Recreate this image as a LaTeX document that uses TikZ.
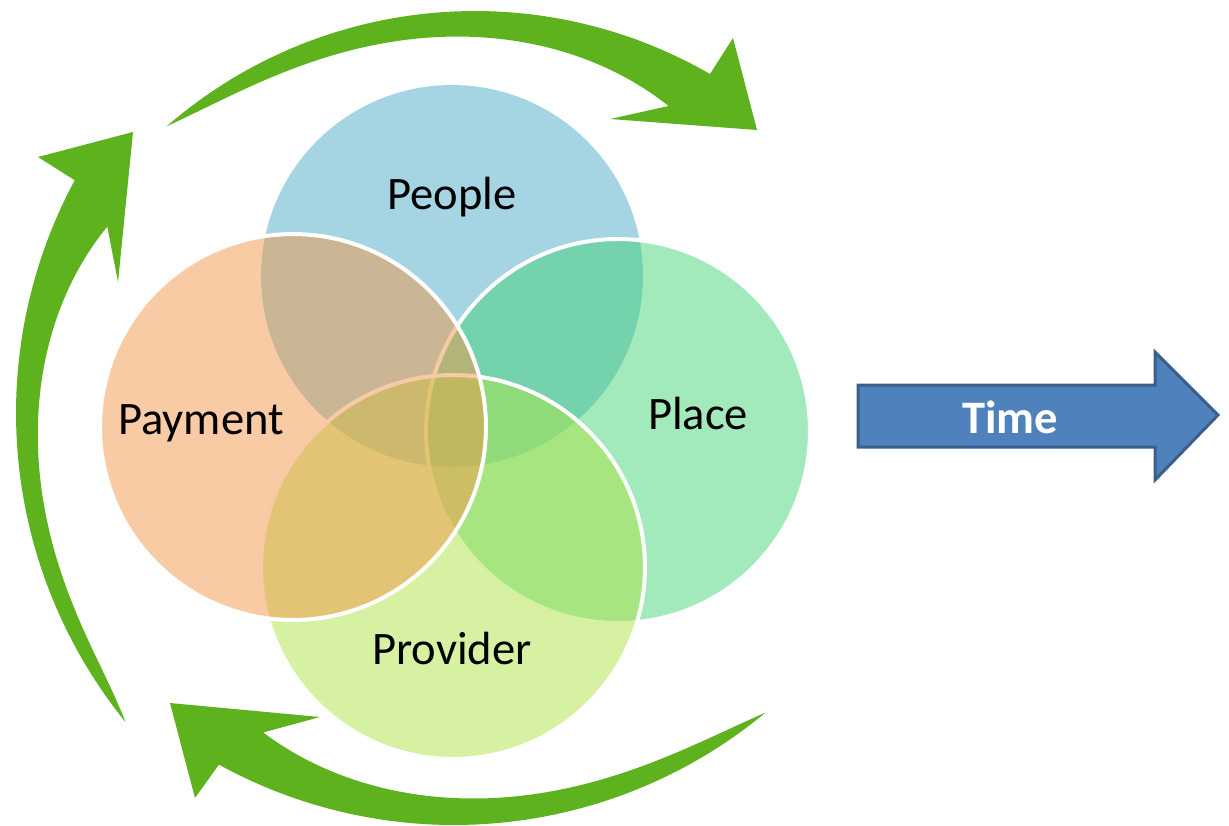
\documentclass[tikz,border=0pt]{standalone}
\usepackage{fontspec}
\setmainfont{Carlito}

\definecolor{peopleblue}{HTML}{4BABC5}
\definecolor{paymentorange}{HTML}{F19749}
\definecolor{placegreen}{HTML}{45D379}
\definecolor{providergreen}{HTML}{ADE345}
\definecolor{cyclegreen}{HTML}{5EB21D}
\definecolor{timefill}{HTML}{4F81BD}
\definecolor{timeedge}{HTML}{3A5F8B}

\begin{document}
\begin{tikzpicture}[x=0.02cm, y=-0.02cm,
  venn/.style={fill opacity=0.5, draw=white, line width=0.08cm},
  lbl/.style={font=\fontsize{26.5}{32}\selectfont, text=black, inner sep=0pt},
  cyclearrow/.style={fill=cyclegreen},
  timearrow/.style={fill=timefill, draw=timeedge, line width=0.06cm, line join=miter},
  timelbl/.style={font=\fontsize{26.5}{32}\selectfont\bfseries, text=white, inner sep=0pt}]

\useasboundingbox (0,0) rectangle (1229,825);

% centres of the four sets
\coordinate (cPeople)   at (452,276);
\coordinate (cPlace)    at (618,431);
\coordinate (cProvider) at (453,567);
\coordinate (cPayment)  at (293,427);

% translucent discs, stacked so that later rims lie over earlier fills
\path[venn, draw=none, fill=peopleblue] (cPeople) circle[radius=3.82cm];
\path[venn, fill=placegreen] (cPlace) circle[radius=3.84cm];
\path[venn, fill=providergreen] (cProvider) circle[radius=3.84cm];
\path[venn, fill=paymentorange] (cPayment) circle[radius=3.86cm];

% labels
\node[lbl] (people)   at (452,197) {People};
\node[lbl] (place)    at (698,413) {Place};
\node[lbl] (provider) at (452,648) {Provider};
\node[lbl] (payment)  at (201,423) {Payment};

% ---- cycle arrows: tapered bands around a centre, outer rim circular ----
% (y axis points down, so a polar angle -a is the angle a seen on the page)
% band width: rise from the tail, a plateau, then a swell towards the head

% upper arrow, left to right
\coordinate (cTop) at (475,481);
\coordinate (topBarbOut) at (733,38);
\coordinate (topTip)     at (757,130);
\coordinate (topBarbIn)  at (610,119);
\begin{scope}[shift={(cTop)}]
  \fill[cyclearrow]
    plot[domain=-131:-60, samples=60] (\x:470)
    -- (topBarbOut) -- (topTip) -- (topBarbIn)
    -- plot[domain=1:0, samples=80]
         ({-131+68.3*\x}:{470-23*(1-exp(-\x/0.14))-25*\x^4})
    -- cycle;
\end{scope}

% left arrow, bottom to top
\coordinate (cLeft) at (507,413);
\coordinate (leftBarbOut) at (38,157);
\coordinate (leftTip)     at (133,132);
\coordinate (leftBarbIn)  at (118,282);
\begin{scope}[shift={(cLeft)}]
  \fill[cyclearrow]
    plot[domain=-219:-151.7, samples=60] (\x:491)
    -- (leftBarbOut) -- (leftTip) -- (leftBarbIn)
    -- plot[domain=1:0, samples=80]
         ({-219+64*\x}:{491-18*(1-exp(-\x/0.1))-32*\x^4})
    -- cycle;
\end{scope}

% lower arrow, right to left
\coordinate (cBottom) at (454,337);
\coordinate (botBarbIn)  at (320,717);
\coordinate (botTip)     at (170,703);
\coordinate (botBarbOut) at (195,798);
\begin{scope}[shift={(cBottom)}]
  \fill[cyclearrow]
    plot[domain=0:1, samples=80]
         ({50.3+65.5*\x}:{488-24*(1-exp(-\x/0.15))-25*\x^4})
    -- (botBarbIn) -- (botTip) -- (botBarbOut)
    -- plot[domain=118.8:50.3, samples=60] (\x:488)
    -- cycle;
\end{scope}

% time arrow
\draw[timearrow] (858,385) -- (1155,385) -- (1155,352) -- (1218,415)
  -- (1155,480) -- (1155,447) -- (858,447) -- cycle;
\node[timelbl] (time) at (1010,417) {Time};

\end{tikzpicture}
\end{document}
